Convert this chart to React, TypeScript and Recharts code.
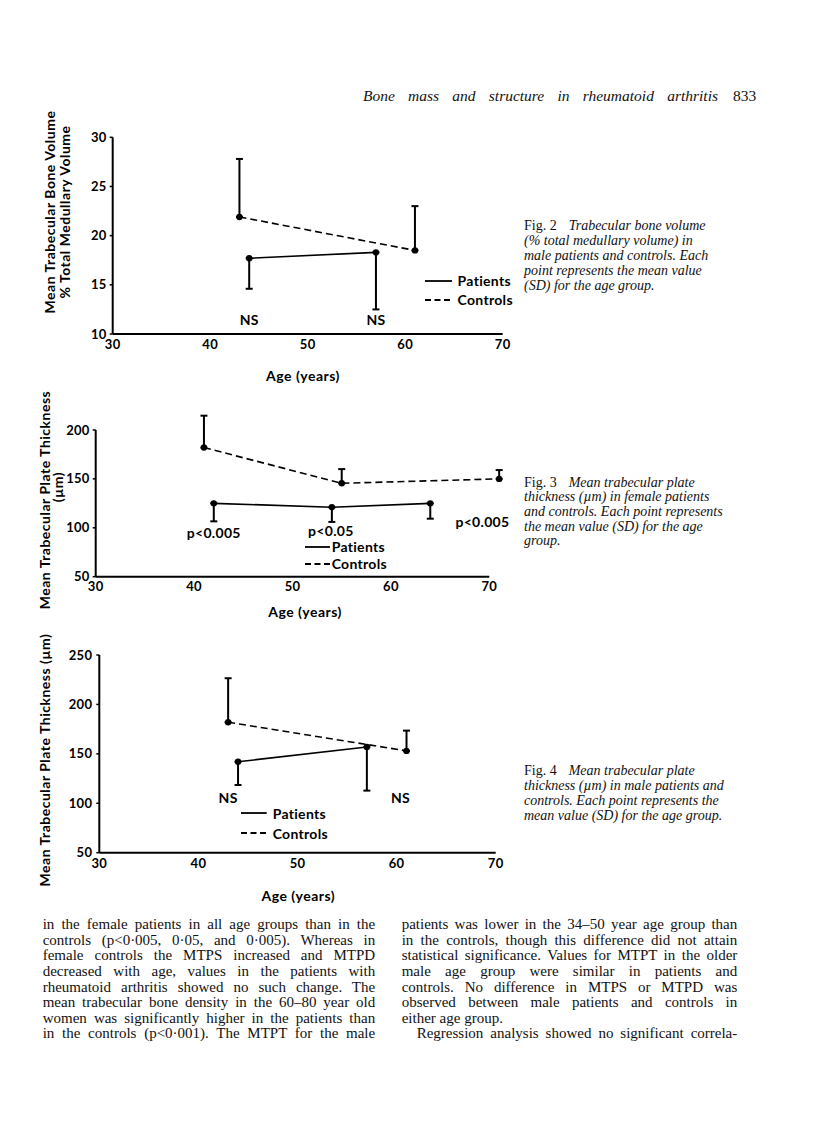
import React from 'react'
import { LineChart, Line, XAxis, YAxis, ErrorBar, ReferenceDot, ReferenceLine, Legend } from 'recharts'

// ages on the x axis, shared by all three figures
const ageTicks = [30, 40, 50, 60, 70]

// Fig. 2 trabecular bone volume (%), males. sd = [below, above]
const fig2Patients = [
  { age: 44, mean: 17.7, sd: [3.1, 0] },
  { age: 57, mean: 18.3, sd: [5.8, 0] },
]
const fig2Controls = [
  { age: 43, mean: 21.9, sd: [0, 5.9] },
  { age: 61, mean: 18.5, sd: [0, 4.5] },
]
const fig2Notes = [
  { age: 44, y: 11.4, text: 'NS' },
  { age: 57, y: 11.4, text: 'NS' },
]
const fig2YTicks = [10, 15, 20, 25, 30]

// Fig. 3 plate thickness (µm), females
const fig3Patients = [
  { age: 42, mean: 125, sd: [18.4, 0] },
  { age: 54, mean: 121, sd: [15, 0] },
  { age: 64, mean: 125, sd: [15.7, 0] },
]
const fig3Controls = [
  { age: 41, mean: 182, sd: [0, 32.6] },
  { age: 55, mean: 145.5, sd: [0, 14.5] },
  { age: 71, mean: 150, sd: [0, 9] },
]
const fig3Notes = [
  { age: 42, y: 94.4, text: 'p<0.005' },
  { age: 53.9, y: 97, text: 'p<0.05' },
  { age: 69.3, y: 106, text: 'p<0.005' },
]
const fig3YTicks = [50, 100, 150, 200]
// axis lines stop at 70 yrs / 200 µm while the data run past them
const fig3Axes = [
  [{ x: 30, y: 50 }, { x: 70, y: 50 }],
  [{ x: 30, y: 50 }, { x: 30, y: 200 }],
]

// Fig. 4 plate thickness (µm), males
const fig4Patients = [
  { age: 44, mean: 142, sd: [23.5, 0] },
  { age: 57, mean: 157, sd: [44.2, 0] },
]
const fig4Controls = [
  { age: 43, mean: 182, sd: [0, 44.5] },
  { age: 61, mean: 153, sd: [0, 20.5] },
]
const fig4Notes = [
  { age: 43, y: 105, text: 'NS' },
  { age: 60.4, y: 105, text: 'NS' },
]
const fig4YTicks = [50, 100, 150, 200, 250]

const leftColumn = [
  'in the female patients in all age groups than in the',
  'controls (p<0·005, 0·05, and 0·005). Whereas in',
  'female controls the MTPS increased and MTPD',
  'decreased with age, values in the patients with',
  'rheumatoid arthritis showed no such change. The',
  'mean trabecular bone density in the 60–80 year old',
  'women was significantly higher in the patients than',
  'in the controls (p<0·001). The MTPT for the male',
]
const rightColumn = [
  'patients was lower in the 34–50 year age group than',
  'in the controls, though this difference did not attain',
  'statistical significance. Values for MTPT in the older',
  'male age group were similar in patients and',
  'controls. No difference in MTPS or MTPD was',
  'observed between male patients and controls in',
  'either age group.',
  'Regression analysis showed no significant correla-',
]

const serif = '"Liberation Serif", "Times New Roman", serif'
const sans = 'Lato, "Open Sans", sans-serif'
const tickStyle = { fill: '#000', fontSize: 13, fontWeight: 700, fontFamily: sans, letterSpacing: 0.3 }
const axisStyle = { stroke: '#000', strokeWidth: 2 }

function LegendBox({ lineW, gap, rowH }: { lineW: number; gap: number; rowH: number }) {
  const rows = [
    { name: 'Patients', dash: undefined as string | undefined },
    { name: 'Controls', dash: '6 3.5' },
  ]
  return (
    <div style={{ fontFamily: sans, fontWeight: 700, fontSize: 14, letterSpacing: 0.3, color: '#000' }}>
      {rows.map((r) => (
        <div key={r.name} style={{ display: 'flex', alignItems: 'center', height: rowH, whiteSpace: 'nowrap' }}>
          <svg width={lineW} height={4} style={{ marginRight: gap }}>
            <line x1={0} y1={2} x2={lineW} y2={2} stroke="#000" strokeWidth={1.8} strokeDasharray={r.dash} />
          </svg>
          <span>{r.name}</span>
        </div>
      ))}
    </div>
  )
}

type Pt = { age: number; mean: number; sd: number[] }
type Note = { age: number; y: number; text: string }

function Panel(p: {
  top: number
  width: number
  height: number
  margin: { top: number; right: number; bottom: number; left: number }
  patients: Pt[]
  controls: Pt[]
  notes: Note[]
  xDomain: number[]
  yDomain: number[]
  yTicks: number[]
  axes?: { x: number; y: number }[][]
  xAxisHeight: number
  xTickMargin: number
  yTickMargin: number
  labelOffset: number
  labelDx: number
  legend: { left: number; top: number; lineW: number; gap: number; rowH: number }
}) {
  const ownAxes = !!p.axes
  return (
    <div style={{ position: 'absolute', left: 0, top: p.top }}>
      <LineChart width={p.width} height={p.height} margin={p.margin}>
        <XAxis
          type="number"
          dataKey="age"
          domain={p.xDomain}
          ticks={ageTicks}
          height={p.xAxisHeight}
          axisLine={ownAxes ? false : axisStyle}
          tickLine={false}
          tickSize={0}
          tickMargin={p.xTickMargin}
          tick={tickStyle}
          label={{
            value: 'Age (years)',
            position: 'insideBottom',
            offset: p.labelOffset,
            dx: p.labelDx,
            fill: '#000',
            fontSize: 14,
            fontWeight: 700,
            fontFamily: sans,
            letterSpacing: 0.5,
          }}
        />
        <YAxis
          type="number"
          domain={p.yDomain}
          ticks={p.yTicks}
          width={40}
          axisLine={ownAxes ? false : axisStyle}
          tickLine={{ stroke: '#000', strokeWidth: 1.5 }}
          tickSize={3}
          tickMargin={p.yTickMargin}
          tick={tickStyle}
        />
        {p.axes?.map((seg, i) => (
          <ReferenceLine key={i} segment={seg} stroke="#000" strokeWidth={2} ifOverflow="visible" />
        ))}
        <Line
          data={p.controls}
          dataKey="mean"
          name="Controls"
          type="linear"
          stroke="#000"
          strokeWidth={1.6}
          strokeDasharray="7 4"
          dot={{ r: 3.2, fill: '#000', stroke: '#000', strokeWidth: 0, strokeDasharray: '' }}
          isAnimationActive={false}
        >
          <ErrorBar dataKey="sd" direction="y" width={3.5} stroke="#000" strokeWidth={2} />
        </Line>
        <Line
          data={p.patients}
          dataKey="mean"
          name="Patients"
          type="linear"
          stroke="#000"
          strokeWidth={1.6}
          dot={{ r: 3.2, fill: '#000', stroke: '#000', strokeWidth: 0 }}
          isAnimationActive={false}
        >
          <ErrorBar dataKey="sd" direction="y" width={3.5} stroke="#000" strokeWidth={2} />
        </Line>
        {p.notes.map((n) => (
          <ReferenceDot
            key={n.text + n.age}
            x={n.age}
            y={n.y}
            r={0}
            fill="none"
            stroke="none"
            ifOverflow="visible"
            label={{ value: n.text, position: 'center', fill: '#000', fontSize: 14, fontWeight: 700, fontFamily: sans, letterSpacing: 0.3 }}
          />
        ))}
        <Legend
          layout="vertical"
          align="center"
          verticalAlign="middle"
          wrapperStyle={{ left: p.legend.left, top: p.legend.top, width: 'auto', height: 'auto' }}
          content={() => <LegendBox lineW={p.legend.lineW} gap={p.legend.gap} rowH={p.legend.rowH} />}
        />
      </LineChart>
    </div>
  )
}

function RotLabel({ text, cx, cy, w }: { text: string; cx: number; cy: number; w: number }) {
  return (
    <div
      style={{
        position: 'absolute',
        left: cx - w / 2,
        top: cy - 8,
        width: w,
        height: 16,
        lineHeight: '16px',
        textAlign: 'center',
        whiteSpace: 'nowrap',
        transform: 'rotate(-90deg)',
        transformOrigin: '50% 50%',
        fontFamily: sans,
        fontWeight: 700,
        fontSize: 14,
        letterSpacing: 0.5,
        color: '#000',
      }}
    >
      {text}
    </div>
  )
}

function Caption({ fig, lines, top, step }: { fig: string; lines: string[]; top: number; step: number }) {
  return (
    <>
      {lines.map((l, i) => (
        <div
          key={i}
          style={{
            position: 'absolute',
            left: 524,
            top: top + i * step,
            lineHeight: `${step}px`,
            fontFamily: serif,
            fontSize: 14,
            whiteSpace: 'nowrap',
            color: '#111',
          }}
        >
          {i === 0 ? <span style={{ marginRight: 12 }}>{fig}</span> : null}
          <i>{l}</i>
        </div>
      ))}
    </>
  )
}

function Column({ lines, left, width, justifyUntil, indentLast }: { lines: string[]; left: number; width: number; justifyUntil: number[]; indentLast?: boolean }) {
  return (
    <>
      {lines.map((l, i) => {
        const indent = indentLast && i === lines.length - 1 ? 15 : 0
        const just = !justifyUntil.includes(i)
        return (
          <div
            key={i}
            style={{
              position: 'absolute',
              left: left + indent,
              top: 917.2 + i * 15.6,
              width: width - indent,
              lineHeight: '15.6px',
              fontFamily: serif,
              fontSize: 15,
              whiteSpace: 'nowrap',
              textAlign: just ? 'justify' : 'left',
              textAlignLast: just ? 'justify' : 'left',
              color: '#111',
            }}
          >
            {l}
          </div>
        )
      })}
    </>
  )
}

export default function App() {
  return (
    <div style={{ position: 'absolute', left: 0, top: 0, width: 816, height: 1144, background: '#fff', overflow: 'hidden' }}>
      <div
        style={{
          position: 'absolute',
          left: 363,
          top: 87,
          width: 355,
          lineHeight: '18px',
          fontFamily: serif,
          fontStyle: 'italic',
          fontSize: 15.5,
          whiteSpace: 'nowrap',
          textAlign: 'justify',
          textAlignLast: 'justify',
          color: '#111',
        }}
      >
        Bone mass and structure in rheumatoid arthritis
      </div>
      <div style={{ position: 'absolute', left: 733, top: 87, lineHeight: '18px', fontFamily: serif, fontSize: 15.5, color: '#111' }}>833</div>

      <Panel
        top={100}
        width={560}
        height={300}
        margin={{ top: 37.3, right: 57.3, bottom: 16, left: 72.7 }}
        patients={fig2Patients}
        controls={fig2Controls}
        notes={fig2Notes}
        xDomain={[30, 70]}
        yDomain={[10, 30]}
        yTicks={fig2YTicks}
        xAxisHeight={50}
        xTickMargin={6}
        yTickMargin={3}
        labelOffset={3.3}
        labelDx={-4.7}
        legend={{ left: 425, top: 171, lineW: 27, gap: 5.6, rowH: 19.3 }}
      />
      <RotLabel text="Mean Trabecular Bone Volume" cx={50} cy={212} w={260} />
      <RotLabel text="% Total Medullary Volume" cx={65} cy={212} w={260} />
      <Caption
        fig="Fig. 2"
        top={217.5}
        step={15}
        lines={[
          'Trabecular bone volume',
          '(% total medullary volume) in',
          'male patients and controls. Each',
          'point represents the mean value',
          '(SD) for the age group.',
        ]}
      />

      <Panel
        top={390}
        width={560}
        height={250}
        margin={{ top: 20.4, right: 51, bottom: 18.3, left: 55.7 }}
        patients={fig3Patients}
        controls={fig3Controls}
        notes={fig3Notes}
        xDomain={[30, 72]}
        yDomain={[50, 220]}
        yTicks={fig3YTicks}
        axes={fig3Axes}
        xAxisHeight={45}
        xTickMargin={5}
        yTickMargin={3}
        labelOffset={4.7}
        labelDx={2.7}
        legend={{ left: 305, top: 148, lineW: 25, gap: 1.7, rowH: 17.3 }}
      />
      <RotLabel text="Mean Trabecular Plate Thickness" cx={45} cy={500} w={260} />
      <RotLabel text="(µm)" cx={58} cy={487} w={60} />
      <Caption
        fig="Fig. 3"
        top={475.8}
        step={14.6}
        lines={[
          'Mean trabecular plate',
          'thickness (µm) in female patients',
          'and controls. Each point represents',
          'the mean value (SD) for the age',
          'group.',
        ]}
      />

      <Panel
        top={630}
        width={560}
        height={290}
        margin={{ top: 25, right: 64.3, bottom: 17.3, left: 59.3 }}
        patients={fig4Patients}
        controls={fig4Controls}
        notes={fig4Notes}
        xDomain={[30, 70]}
        yDomain={[50, 250]}
        yTicks={fig4YTicks}
        xAxisHeight={50}
        xTickMargin={6}
        yTickMargin={4}
        labelOffset={2}
        labelDx={0.8}
        legend={{ left: 241, top: 173.3, lineW: 25.7, gap: 6, rowH: 20 }}
      />
      <RotLabel text="Mean Trabecular Plate Thickness (µm)" cx={45} cy={760} w={300} />
      <Caption
        fig="Fig. 4"
        top={764.2}
        step={14.8}
        lines={[
          'Mean trabecular plate',
          'thickness (µm) in male patients and',
          'controls. Each point represents the',
          'mean value (SD) for the age group.',
        ]}
      />

      <Column lines={leftColumn} left={42.7} width={332.5} justifyUntil={[]} />
      <Column lines={rightColumn} left={401.7} width={335.6} justifyUntil={[6]} indentLast />
    </div>
  )
}
